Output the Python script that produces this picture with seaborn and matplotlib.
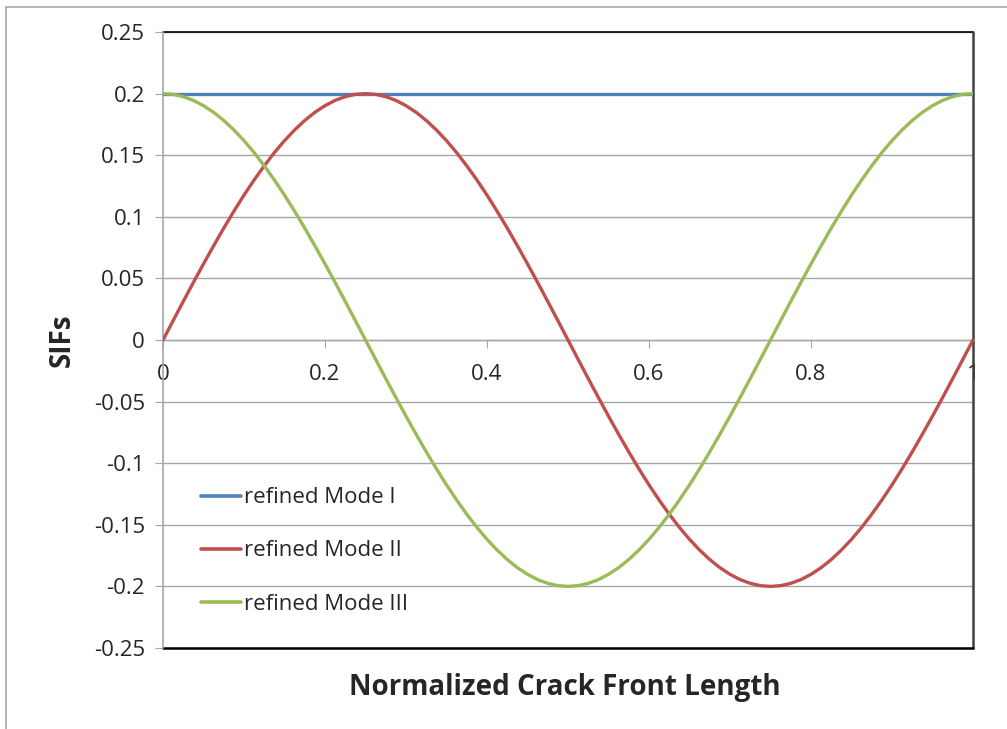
import matplotlib
matplotlib.use("Agg")
import matplotlib.pyplot as plt
import seaborn as sns
import pandas as pd
from matplotlib.lines import Line2D

x_vals = [i * 0.0125 for i in range(81)]
mode_i = [0.2] * 81
mode_ii = [0, 0.0157, 0.0313, 0.0467, 0.0618, 0.0765, 0.0908, 0.1045, 0.1176, 0.1299,
           0.1414, 0.1521, 0.1618, 0.1705, 0.1782, 0.1848, 0.1902, 0.1945, 0.1975, 0.1994,
           0.2, 0.1994, 0.1975, 0.1945, 0.1902, 0.1848, 0.1782, 0.1705, 0.1618, 0.1521,
           0.1414, 0.1299, 0.1176, 0.1045, 0.0908, 0.0765, 0.0618, 0.0467, 0.0313, 0.0157,
           0, -0.0157, -0.0313, -0.0467, -0.0618, -0.0765, -0.0908, -0.1045, -0.1176, -0.1299,
           -0.1414, -0.1521, -0.1618, -0.1705, -0.1782, -0.1848, -0.1902, -0.1945, -0.1975, -0.1994,
           -0.2, -0.1994, -0.1975, -0.1945, -0.1902, -0.1848, -0.1782, -0.1705, -0.1618, -0.1521,
           -0.1414, -0.1299, -0.1176, -0.1045, -0.0908, -0.0765, -0.0618, -0.0467, -0.0313, -0.0157,
           0]
mode_iii = [0.2, 0.1994, 0.1975, 0.1945, 0.1902, 0.1848, 0.1782, 0.1705, 0.1618, 0.1521,
            0.1414, 0.1299, 0.1176, 0.1045, 0.0908, 0.0765, 0.0618, 0.0467, 0.0313, 0.0157,
            0, -0.0157, -0.0313, -0.0467, -0.0618, -0.0765, -0.0908, -0.1045, -0.1176, -0.1299,
            -0.1414, -0.1521, -0.1618, -0.1705, -0.1782, -0.1848, -0.1902, -0.1945, -0.1975, -0.1994,
            -0.2, -0.1994, -0.1975, -0.1945, -0.1902, -0.1848, -0.1782, -0.1705, -0.1618, -0.1521,
            -0.1414, -0.1299, -0.1176, -0.1045, -0.0908, -0.0765, -0.0618, -0.0467, -0.0313, -0.0157,
            0, 0.0157, 0.0313, 0.0467, 0.0618, 0.0765, 0.0908, 0.1045, 0.1176, 0.1299,
            0.1414, 0.1521, 0.1618, 0.1705, 0.1782, 0.1848, 0.1902, 0.1945, 0.1975, 0.1994,
            0.2]
series_names = ["refined Mode I", "refined Mode II", "refined Mode III"]
colors = ["#4F81BD", "#C0504D", "#9BBB59"]
y_ticks = [-0.25, -0.2, -0.15, -0.1, -0.05, 0, 0.05, 0.1, 0.15, 0.2, 0.25]
y_tick_labels = ["-0.25", "-0.2", "-0.15", "-0.1", "-0.05", "0", "0.05", "0.1", "0.15", "0.2", "0.25"]
x_ticks = [0, 0.2, 0.4, 0.6, 0.8, 1]
x_tick_labels = ["0", "0.2", "0.4", "0.6", "0.8", "1"]

sns.set_style("white")
plt.rcParams["font.family"] = ["Open Sans", "DejaVu Sans"]

df = pd.concat([
    pd.DataFrame({"x": x_vals, "y": vals, "series": name})
    for name, vals in zip(series_names, [mode_i, mode_ii, mode_iii])
])

fig = plt.figure(figsize=(10.07, 7.29), dpi=100)
ax = fig.add_axes([163/1007, 1-648/729, (973-163)/1007, (648-32)/729])

sns.lineplot(data=df, x="x", y="y", hue="series", palette=colors, linewidth=2.4,
             ax=ax, legend=False, zorder=3)

ax.set_xlim(0, 1)
ax.set_ylim(-0.25, 0.25)
ax.set_yticks(y_ticks)
ax.set_yticklabels(y_tick_labels, fontsize=16)
ax.yaxis.grid(True, color="#A6A6A6", linewidth=1.0)
ax.set_axisbelow(True)

# x-axis crossing at zero
ax.spines["bottom"].set_position(("data", 0))
ax.spines["bottom"].set_color("#A6A6A6")
ax.spines["left"].set_color("#A6A6A6")
ax.spines["left"].set_linewidth(1.2)
ax.spines["bottom"].set_linewidth(1.0)
for s in ["top", "right"]:
    ax.spines[s].set_visible(False)
# frame lines of plot area
ax.plot([0, 1], [0.25, 0.25], color="black", lw=1.2, clip_on=False, zorder=2)
ax.plot([1, 1], [-0.25, 0.25], color="#404040", lw=1.8, clip_on=False, zorder=2)
ax.plot([0, 1], [-0.25, -0.25], color="black", lw=1.8, clip_on=False, zorder=2)

ax.set_xticks(x_ticks)
ax.set_xticklabels(x_tick_labels, fontsize=16)
ax.tick_params(axis="x", direction="out", length=6, color="#A6A6A6", pad=11)
ax.tick_params(axis="y", direction="out", length=6, color="#A6A6A6", pad=7, left=True)
ax.tick_params(axis="x", bottom=True)

ax.set_xlabel("")
ax.set_ylabel("")
fig.text(565/1007, 1-687/729, "Normalized Crack Front Length", fontsize=20,
         fontweight="bold", ha="center", va="center")
fig.text(62/1007, 1-340/729, "SIFs", fontsize=20, fontweight="bold",
         rotation=90, ha="center", va="center")

handles = [Line2D([0], [0], color=c, lw=2.6) for c in colors]
fig.legend(handles, series_names, loc="center left",
           bbox_to_anchor=(181/1007, 1-551/729), frameon=False, fontsize=16,
           handlelength=1.8, handletextpad=0.15, labelspacing=1.45)

# outer border lines
fig.add_artist(Line2D([6/1007, 1], [1-6.5/729, 1-6.5/729], color="#A6A6A6", lw=1.2,
                      transform=fig.transFigure))
fig.add_artist(Line2D([6/1007, 6/1007], [0, 1-6.5/729], color="#A6A6A6", lw=1.2,
                      transform=fig.transFigure))

fig.savefig("out.png", dpi=100)
